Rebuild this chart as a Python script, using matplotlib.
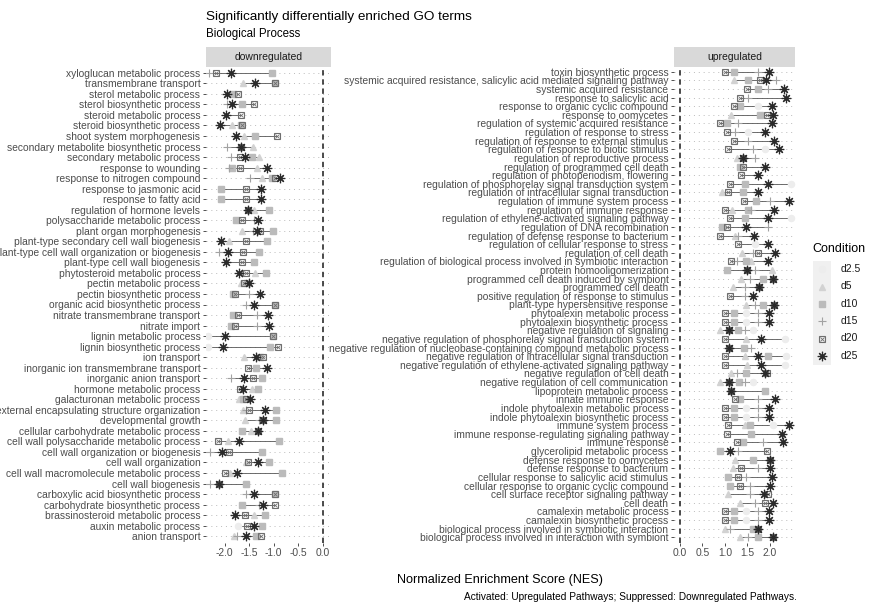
"""
GO enrichment NES chart.

Two panels (downregulated / upregulated Biological Process terms) with one
marker per time point and a grey range line per term.
"""

import matplotlib
matplotlib.use('Agg')
import matplotlib.pyplot as plt
import numpy as np
from matplotlib.patches import Rectangle

plt.rcParams['font.family'] = ['Liberation Sans', 'DejaVu Sans']

nan = float('nan')

conditions = ['d2.5', 'd5', 'd10', 'd15', 'd20', 'd25']

# ---- downregulated panel (top to bottom) ----
down_terms = [
    'xyloglucan metabolic process', 'transmembrane transport', 'sterol metabolic process',
    'sterol biosynthetic process', 'steroid metabolic process', 'steroid biosynthetic process',
    'shoot system morphogenesis', 'secondary metabolite biosynthetic process',
    'secondary metabolic process', 'response to wounding', 'response to nitrogen compound',
    'response to jasmonic acid', 'response to fatty acid', 'regulation of hormone levels',
    'polysaccharide metabolic process', 'plant organ morphogenesis',
    'plant-type secondary cell wall biogenesis', 'plant-type cell wall organization or biogenesis',
    'plant-type cell wall biogenesis', 'phytosteroid metabolic process', 'pectin metabolic process',
    'pectin biosynthetic process', 'organic acid biosynthetic process',
    'nitrate transmembrane transport', 'nitrate import', 'lignin metabolic process',
    'lignin biosynthetic process', 'ion transport', 'inorganic ion transmembrane transport',
    'inorganic anion transport', 'hormone metabolic process', 'galacturonan metabolic process',
    'external encapsulating structure organization', 'developmental growth',
    'cellular carbohydrate metabolic process', 'cell wall polysaccharide metabolic process',
    'cell wall organization or biogenesis', 'cell wall organization',
    'cell wall macromolecule metabolic process', 'cell wall biogenesis',
    'carboxylic acid biosynthetic process', 'carbohydrate biosynthetic process',
    'brassinosteroid metabolic process', 'auxin metabolic process', 'anion transport',
]
down_d2_5 = [nan, nan, nan, nan, nan, nan, nan, nan, nan, nan, nan, nan, nan, nan, nan,
             nan, nan, nan, nan, nan, nan, nan, nan, nan, nan, -2.33, -2.33, nan, nan, nan,
             nan, nan, nan, nan, nan, nan, nan, nan, nan, nan, nan, nan, nan, -1.72, nan]
down_d5 = [nan, -1.63, nan, nan, nan, -1.85, -1.60, -1.43, -1.29, -1.33, -1.23, nan, nan,
           -1.40, nan, -1.64, -1.91, nan, nan, -1.38, -1.67, nan, nan, nan, nan, nan, nan,
           -1.60, nan, nan, -1.45, -1.71, -1.63, -1.58, -1.47, -1.93, nan, -1.57, -1.90, nan,
           nan, nan, -1.40, nan, -1.81]
down_d10 = [-1.04, -0.98, -1.83, -1.64, nan, -1.66, -1.38, nan, -1.45, -1.85, -1.03, -2.07,
            -2.07, -1.09, -1.76, -1.02, -1.14, -1.29, -1.40, -1.16, -1.55, -1.82, -0.98, -1.83,
            -1.88, -1.02, -1.07, -1.28, -1.35, -1.24, -1.31, -1.62, -0.96, -0.95, -1.65, -0.90,
            -1.23, -1.09, -0.83, -1.57, -0.98, -1.65, -1.17, -1.23, -1.36]
down_d15 = [-2.31, nan, nan, -1.95, nan, nan, nan, -1.95, -1.88, -1.91, -1.48, nan, nan, nan,
            -1.40, -1.43, nan, -2.11, nan, -1.64, nan, -1.50, -1.56, -1.34, -1.34, nan, nan,
            nan, nan, -1.86, nan, nan, -1.57, -1.30, nan, nan, -2.29, nan, nan, -2.29, -1.57,
            -1.29, nan, nan, -1.74]
down_d20 = [-2.17, -0.97, -1.72, -1.41, -1.67, -1.64, -0.93, -1.67, -1.69, -1.69, -0.97, -1.56,
            -1.56, -1.52, -1.64, -1.27, -1.57, -1.62, -1.65, -1.57, -1.60, -1.79, -0.98, -1.73,
            -1.78, -1.02, -0.92, -1.21, -1.52, -1.42, -1.68, -1.56, -1.50, -1.21, -1.32, -2.13,
            -1.91, -1.52, -2.00, -2.12, -0.97, -0.98, -1.58, -1.54, -1.26]
down_d25 = [-1.87, -1.38, -1.95, -1.85, -1.98, -2.09, -1.76, -1.66, -1.58, -1.14, -0.88, -1.26,
            -1.26, -1.52, -1.31, -1.34, -2.07, -1.93, -1.97, -1.71, -1.50, -1.27, -1.40, -1.11,
            -1.10, -2.00, -2.04, -1.36, -1.14, -1.60, -1.63, -1.48, -1.17, -1.21, -1.32, -1.71,
            -2.05, -1.31, -1.74, -2.12, -1.41, -1.21, -1.79, -1.41, -1.57]

# ---- upregulated panel (top to bottom) ----
up_terms = [
    'toxin biosynthetic process',
    'systemic acquired resistance, salicylic acid mediated signaling pathway',
    'systemic acquired resistance', 'response to salicylic acid',
    'response to organic cyclic compound', 'response to oomycetes',
    'regulation of systemic acquired resistance', 'regulation of response to stress',
    'regulation of response to external stimulus', 'regulation of response to biotic stimulus',
    'regulation of reproductive process', 'regulation of programmed cell death',
    'regulation of photoperiodism, flowering',
    'regulation of phosphorelay signal transduction system',
    'regulation of intracellular signal transduction', 'regulation of immune system process',
    'regulation of immune response', 'regulation of ethylene-activated signaling pathway',
    'regulation of DNA recombination', 'regulation of defense response to bacterium',
    'regulation of cellular response to stress', 'regulation of cell death',
    'regulation of biological process involved in symbiotic interaction',
    'protein homooligomerization', 'programmed cell death induced by symbiont',
    'programmed cell death', 'positive regulation of response to stimulus',
    'plant-type hypersensitive response', 'phytoalexin metabolic process',
    'phytoalexin biosynthetic process', 'negative regulation of signaling',
    'negative regulation of phosphorelay signal transduction system',
    'negative regulation of nucleobase-containing compound metabolic process',
    'negative regulation of intracellular signal transduction',
    'negative regulation of ethylene-activated signaling pathway',
    'negative regulation of cell death', 'negative regulation of cell communication',
    'lipoprotein metabolic process', 'innate immune response',
    'indole phytoalexin metabolic process', 'indole phytoalexin biosynthetic process',
    'immune system process', 'immune response-regulating signaling pathway',
    'immune response', 'glycerolipid metabolic process', 'defense response to oomycetes',
    'defense response to bacterium', 'cellular response to salicylic acid stimulus',
    'cellular response to organic cyclic compound', 'cell surface receptor signaling pathway',
    'cell death', 'camalexin metabolic process', 'camalexin biosynthetic process',
    'biological process involved in symbiotic interaction',
    'biological process involved in interaction with symbiont',
]
up_d2_5 = [nan, nan, nan, nan, 1.74, nan, nan, 1.52, nan, 1.89, nan, nan, nan, 2.48, nan,
           nan, nan, 2.48, nan, nan, 1.67, nan, nan, nan, nan, nan, nan, nan, 1.48, 1.48,
           1.63, 2.33, nan, 2.37, 2.33, nan, 1.63, nan, nan, 1.48, 1.48, 2.07, nan, nan, nan,
           nan, nan, nan, nan, nan, nan, 1.48, 1.48, nan, nan]
up_d5 = [nan, 1.21, nan, nan, nan, 1.13, nan, nan, nan, nan, 1.26, nan, nan, nan, 0.93, nan,
         1.15, nan, nan, 1.22, nan, 1.39, 1.59, 2.04, 1.37, 1.19, nan, 1.48, nan, nan, 0.89,
         1.48, nan, 1.44, 1.50, 1.13, 0.89, nan, nan, nan, nan, 1.44, nan, nan, nan, 1.22,
         1.19, nan, nan, 1.07, 1.33, nan, nan, 1.00, 1.33]
up_d10 = [1.21, 1.52, 1.74, nan, 1.33, 1.78, 1.04, nan, nan, nan, nan, 1.33, nan, 1.44, 1.41,
          1.70, 1.52, 1.44, 0.93, nan, nan, nan, 1.46, 1.04, 1.85, nan, nan, 1.85, 1.20, 1.20,
          1.30, nan, 1.43, 1.95, nan, 1.48, 1.31, 1.89, 1.33, 1.20, 1.20, 1.56, 1.59, 1.41,
          0.89, 1.63, nan, 1.06, 1.11, nan, nan, 1.20, 1.20, 1.63, 1.74]
up_d15 = [1.74, 2.13, 1.95, 1.52, nan, nan, 1.30, 1.22, 1.52, 1.63, 1.67, nan, nan, nan, nan,
          2.00, 1.59, nan, 1.96, 1.30, nan, 1.63, 1.26, 1.67, 1.56, 1.44, 1.44, 1.67, 1.73,
          1.73, 1.44, nan, 1.59, nan, nan, 1.26, 1.44, nan, 1.74, 1.73, 1.73, nan, nan, 1.85,
          1.30, nan, 1.74, 1.48, 1.56, 1.56, 1.67, 1.73, 1.73, 1.11, 1.52]
up_d20 = [1.00, 1.78, 1.50, 1.33, 1.20, 1.93, 0.90, 1.05, 1.21, 1.07, 1.41, 1.41, 1.36, 1.11,
          1.07, 1.43, 1.01, 1.11, 1.05, 0.89, 1.30, 1.73, 1.13, 1.50, 2.07, 1.77, 1.11, 2.10,
          1.00, 1.00, 1.10, 1.01, 1.09, 1.01, 1.01, 1.93, 1.10, 1.13, 1.22, 1.00, 1.00, 1.07,
          1.04, 1.26, 1.93, 2.00, 1.36, 1.30, 1.33, 1.95, 1.89, 1.00, 1.00, 1.73, 2.06]
up_d25 = [1.98, 1.91, 2.32, 2.35, 2.05, 2.07, 2.04, 1.90, 2.10, 2.20, 1.41, 1.89, 1.73, 1.96,
          1.74, 2.42, 2.10, 1.96, 1.48, 1.65, 1.95, 2.11, 1.96, 1.50, 2.07, 1.77, 1.63, 2.10,
          1.99, 1.99, 1.10, 1.81, 1.09, 1.74, 1.80, 1.89, 1.10, 1.13, 2.11, 1.99, 1.99, 2.42,
          2.26, 2.30, 1.11, 2.00, 2.00, 2.05, 2.00, 1.87, 2.07, 1.99, 1.99, 1.73, 2.06]

# grey ramp, light (early) to dark (late)
COLORS = ['#EDEDED', '#D2D2D2', '#BBBBBB', '#A2A2A2', '#6E6E6E', '#2A2A2A']

W, H = 869, 605


def px_box(x0, y0, x1, y1):
    """Pixel box (top-left origin) -> figure fraction rect."""
    return [x0 / W, 1 - y1 / H, (x1 - x0) / W, (y1 - y0) / H]


def plot_points(ax, x, y, idx, z=3):
    """Draw one condition's markers in ggplot-like shapes."""
    c = COLORS[idx]
    kw = dict(ls='none', zorder=z)
    if idx == 0:
        ax.plot(x, y, marker='o', ms=4.4, mfc=c, mec=c, **kw)
    elif idx == 1:
        ax.plot(x, y, marker='^', ms=4.6, mfc=c, mec=c, **kw)
    elif idx == 2:
        ax.plot(x, y, marker='s', ms=4.0, mfc=c, mec=c, **kw)
    elif idx == 3:
        ax.plot(x, y, marker='+', ms=6.2, mec=c, mew=0.8, **kw)
    elif idx == 4:
        ax.plot(x, y, marker='s', ms=4.6, mfc='none', mec=c, mew=0.8, **kw)
        ax.plot(x, y, marker='x', ms=3.1, mec=c, mew=0.6, **kw)
    else:
        ax.plot(x, y, marker=(8, 2, 0), ms=6.8, mec=c, mew=0.85, **kw)


def draw_panel(ax, terms, series, xlim, ticks, strip_label):
    n = len(terms)
    ypos = np.arange(n)[::-1]
    vals = np.array(series, dtype=float)

    for yy in ypos:
        ax.axhline(yy, color='#BBBBBB', lw=0.7, ls=(0, (1, 4)), zorder=0)

    lo = np.nanmin(vals, axis=0)
    hi = np.nanmax(vals, axis=0)
    ax.hlines(ypos, lo, hi, color='#555555', lw=0.6, zorder=1)
    ax.axvline(0, color='#1A1A1A', lw=1.1, ls=(0, (3.5, 2.5)), zorder=2)

    for i, v in enumerate(series):
        plot_points(ax, v, ypos, i, z=3 + i)

    ax.set_ylim(-0.6, n - 0.4)
    ax.set_yticks(ypos)
    ax.set_yticklabels(terms, fontsize=7.4, color='#4D4D4D')
    ax.set_xlim(*xlim)
    ax.set_xticks(ticks)
    ax.set_xticklabels([f'{t:.1f}' for t in ticks], fontsize=7.4, color='#4D4D4D')
    ax.tick_params(axis='y', length=2.5, width=0.6, color='#333333', pad=1.5)
    ax.tick_params(axis='x', length=2.5, width=0.6, color='#333333', pad=1.5)
    for s in ax.spines.values():
        s.set_visible(False)

    # facet strip
    strip_h = 19 / 476
    ax.add_patch(Rectangle((0, 1), 1, strip_h, transform=ax.transAxes, clip_on=False,
                           fc='#D9D9D9', ec='none'))
    ax.text(0.5, 1 + strip_h / 2, strip_label, transform=ax.transAxes, ha='center',
            va='center', fontsize=7.5, color='#1A1A1A')


fig = plt.figure(figsize=(W / 100, H / 100), dpi=100)

ax_down = fig.add_axes(px_box(206, 66.5, 331, 542.5))
draw_panel(ax_down, down_terms,
           [down_d2_5, down_d5, down_d10, down_d15, down_d20, down_d25],
           (-2.38, 0.17), [-2.0, -1.5, -1.0, -0.5, 0.0], 'downregulated')

ax_up = fig.add_axes(px_box(674, 66.5, 795, 542.5))
draw_panel(ax_up, up_terms,
           [up_d2_5, up_d5, up_d10, up_d15, up_d20, up_d25],
           (-0.13, 2.56), [0.0, 0.5, 1.0, 1.5, 2.0], 'upregulated')

# legend
fig.text(812 / W, 1 - 249 / H, 'Condition', fontsize=9, va='center', ha='left')
leg = fig.add_axes(px_box(813, 260.5, 831, 364.5))
leg.set_facecolor('#F0F0F0')
leg.set_xlim(0, 1)
leg.set_ylim(len(conditions), 0)
leg.set_xticks([])
leg.set_yticks([])
for s in leg.spines.values():
    s.set_visible(False)
for i, cond in enumerate(conditions):
    plot_points(leg, [0.5], [i + 0.5], i)
    fig.text(841 / W, 1 - (260.5 + 17.33 * (i + 0.5)) / H, cond, fontsize=7.5,
             va='center', ha='left', color='#1A1A1A')

fig.text(206 / W, 1 - 17 / H, 'Significantly differentially enriched GO terms',
         fontsize=9.7, va='center', ha='left')
fig.text(206 / W, 1 - 34 / H, 'Biological Process', fontsize=8.3, va='center', ha='left')
fig.text(500 / W, 1 - 580 / H, 'Normalized Enrichment Score (NES)', fontsize=9.1,
         va='center', ha='center')
fig.text(797 / W, 1 - 597 / H,
         'Activated: Upregulated Pathways; Suppressed: Downregulated Pathways.',
         fontsize=7.3, va='center', ha='right')

plt.savefig('out.png', dpi=100)
plt.close(fig)
